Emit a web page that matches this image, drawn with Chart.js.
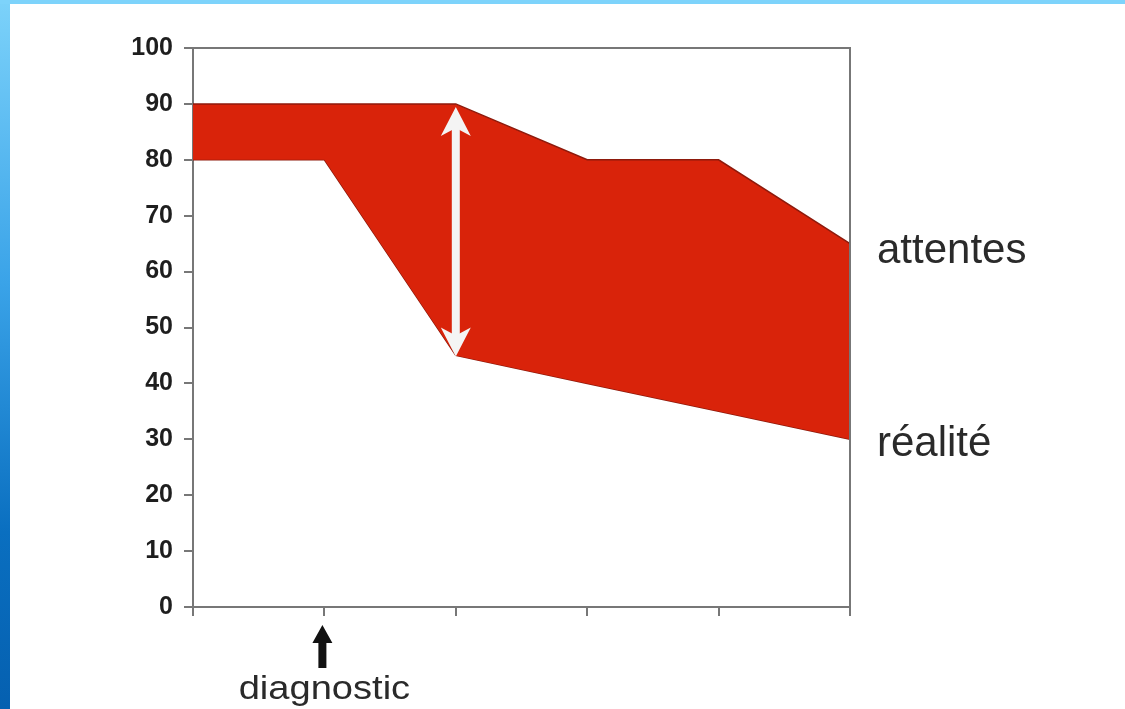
<!DOCTYPE html>
<html>
<head>
<meta charset="utf-8">
<script src="https://cdn.jsdelivr.net/npm/chart.js@4/dist/chart.umd.min.js"></script>
<style>
  html, body { margin: 0; padding: 0; background: #fff; overflow: hidden; }
  #wrap { position: relative; width: 1125px; height: 709px; }
  #leftBar { position: absolute; left: 0; top: 0; width: 10px; height: 709px;
    background: linear-gradient(to bottom, #7cd2fa, #3aa3e8 40%, #0a6fc0 75%, #0560b0); }
  #topBar { position: absolute; left: 0; top: 0; width: 1125px; height: 4px; background: #7dd3fb; }
  canvas { position: absolute; left: 0; top: 0; }
</style>
</head>
<body>
<div id="wrap">
  <canvas id="gapChart" width="1125" height="709"></canvas>
  <div id="leftBar"></div>
  <div id="topBar"></div>
</div>
<script>
// data
const xLabels = ["", "diagnostic", "", "", "", ""];
const attentes = [90, 90, 90, 80, 80, 65];
const realite = [80, 80, 45, 40, 35, 30];
const yTicks = [0, 10, 20, 30, 40, 50, 60, 70, 80, 90, 100];
const seriesNames = ["attentes", "réalité"];
const gapIndex = 2; // where the white double arrow sits

const fillRed = "#d9230a";
const edgeRed = "#8e1a0c";
const axisGray = "#777777";
const fontFamily = "'Liberation Sans', Arial, sans-serif";

// text stretched a bit to match the slide
function stretchedText(ctx, text, x, y, sx) {
  ctx.save();
  ctx.translate(x, y);
  ctx.scale(sx, 1);
  ctx.fillText(text, 0, 0);
  ctx.restore();
}

// draws frame, arrows and the side labels
const annotations = {
  id: "annotations",
  afterDatasetsDraw(chart) {
    const ctx = chart.ctx;
    const area = chart.chartArea;
    const x = chart.scales.x;
    const y = chart.scales.y;
    ctx.save();

    // top and right frame lines
    ctx.strokeStyle = axisGray;
    ctx.lineWidth = 2;
    ctx.beginPath();
    ctx.moveTo(area.left, area.top);
    ctx.lineTo(area.right, area.top);
    ctx.lineTo(area.right, area.bottom + 9);
    ctx.stroke();

    // white double arrow between the two curves
    const gx = x.getPixelForValue(gapIndex);
    const gTop = y.getPixelForValue(attentes[gapIndex]) + 3;
    const gBot = y.getPixelForValue(realite[gapIndex]) + 1;
    ctx.fillStyle = "#f4f4f4";
    ctx.fillRect(gx - 4, gTop + 18, 8, gBot - gTop - 36);
    ctx.beginPath();
    ctx.moveTo(gx, gTop);
    ctx.lineTo(gx - 15, gTop + 29);
    ctx.lineTo(gx, gTop + 21);
    ctx.lineTo(gx + 15, gTop + 29);
    ctx.closePath();
    ctx.fill();
    ctx.beginPath();
    ctx.moveTo(gx, gBot);
    ctx.lineTo(gx - 15, gBot - 29);
    ctx.lineTo(gx, gBot - 21);
    ctx.lineTo(gx + 15, gBot - 29);
    ctx.closePath();
    ctx.fill();

    // black arrow pointing at the diagnostic tick
    const dx = x.getPixelForValue(1) - 2;
    const tipY = area.bottom + 18;
    ctx.fillStyle = "#111";
    ctx.beginPath();
    ctx.moveTo(dx, tipY);
    ctx.lineTo(dx - 10, tipY + 18);
    ctx.lineTo(dx - 4, tipY + 18);
    ctx.lineTo(dx - 4, tipY + 43);
    ctx.lineTo(dx + 4, tipY + 43);
    ctx.lineTo(dx + 4, tipY + 18);
    ctx.lineTo(dx + 10, tipY + 18);
    ctx.closePath();
    ctx.fill();

    ctx.fillStyle = "#2a2a2a";
    ctx.textBaseline = "alphabetic";
    ctx.font = "34px " + fontFamily;
    const dw = ctx.measureText(xLabels[1]).width * 1.12;
    ctx.textAlign = "left";
    stretchedText(ctx, xLabels[1], dx + 2 - dw / 2, 699, 1.12);

    // series names at the right end
    ctx.font = "42px " + fontFamily;
    ctx.fillText(seriesNames[0], area.right + 27, 263);
    ctx.fillText(seriesNames[1], area.right + 27, 456);
    ctx.restore();
  }
};

new Chart(document.getElementById("gapChart"), {
  type: "line",
  data: {
    labels: xLabels,
    datasets: [
      {
        label: seriesNames[0],
        data: attentes,
        borderColor: edgeRed,
        borderWidth: 1.5,
        backgroundColor: fillRed,
        pointRadius: 0,
        tension: 0,
        fill: "+1",
      },
      {
        label: seriesNames[1],
        data: realite,
        borderColor: edgeRed,
        borderWidth: 1.5,
        pointRadius: 0,
        tension: 0,
        fill: false,
      },
    ],
  },
  options: {
    responsive: false,
    animation: false,
    layout: { padding: { left: 93, right: 275, top: 48, bottom: 62 } },
    plugins: {
      legend: { display: false },
      tooltip: { enabled: false },
    },
    scales: {
      x: {
        type: "category",
        offset: false,
        grid: { drawOnChartArea: false, drawTicks: true, tickLength: 9, color: axisGray, lineWidth: 2 },
        border: { display: true, color: axisGray, width: 2 },
        ticks: { display: false },
        afterFit: (scale) => { scale.height = 40; },
      },
      y: {
        min: 0,
        max: 100,
        afterBuildTicks: (scale) => { scale.ticks = yTicks.map((v) => ({ value: v })); },
        grid: { drawOnChartArea: false, drawTicks: true, tickLength: 9, color: axisGray, lineWidth: 2 },
        border: { display: true, color: axisGray, width: 2 },
        ticks: {
          padding: 11,
          color: "#1e1e1e",
          font: { family: fontFamily, size: 25, weight: "bold" },
        },
        afterFit: (scale) => { scale.width = 100; },
      },
    },
  },
  plugins: [annotations],
});
</script>
</body>
</html>
